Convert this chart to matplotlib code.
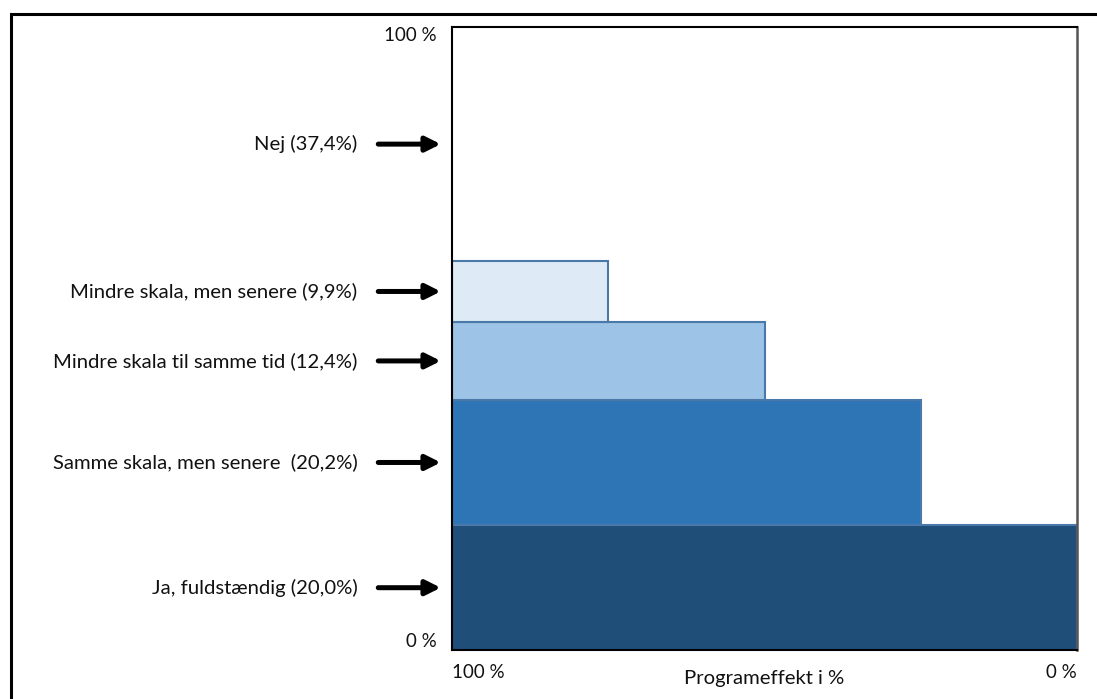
import matplotlib
matplotlib.use("Agg")
import matplotlib.pyplot as plt
from matplotlib.patches import Rectangle

# Data
categories = ["Ja, fuldstændig (20,0%)",
              "Samme skala, men senere  (20,2%)",
              "Mindre skala til samme tid (12,4%)",
              "Mindre skala, men senere (9,9%)",
              "Nej (37,4%)"]
shares = [20.0, 20.2, 12.4, 9.9, 37.4]          # % of respondents (stacked height)
program_effect = [0, 25, 50, 75, 100]           # programeffekt i %
colors = ["#1f4e79", "#2e75b6", "#9dc3e6", "#deeaf6", "#ffffff"]
y_ticklabels = ["0 %", "100 %"]
x_ticklabels = ["100 %", "0 %"]

plt.rcParams['font.family'] = ['Lato', 'DejaVu Sans']

fig = plt.figure(figsize=(10.97, 6.99), dpi=100)
ax = fig.add_axes([452/1097, 1-650/699, (1077-452)/1097, (650-27)/699])

bottoms = []
b = 0
for s in shares:
    bottoms.append(b)
    b += s

for cat, s, eff, bt, c in zip(categories, shares, program_effect, bottoms, colors):
    w = 100 - eff
    if w > 0:
        ax.barh(bt, w, height=s, left=eff, align='edge', color=c,
                edgecolor="#4a78a8", linewidth=1.5, zorder=2)
    yc = bt + s / 2
    ax.annotate("", xy=(-0.018, yc), xycoords=('axes fraction', 'data'),
                xytext=(-0.118, yc), textcoords=('axes fraction', 'data'),
                arrowprops=dict(arrowstyle='-|>', lw=3.6, color='black',
                                mutation_scale=22, shrinkA=0, shrinkB=0),
                annotation_clip=False)
    ax.text(-0.151, yc, cat, transform=ax.get_yaxis_transform(), ha='right',
            va='center', fontsize=14.6, color='#111111')

ax.set_xlim(100, 0)
ax.set_ylim(0, 100)

ax.set_yticks([0, 100])
ax.set_yticklabels(y_ticklabels, fontsize=13.5)
ylabs = ax.get_yticklabels()
ylabs[0].set_va('bottom')
ylabs[1].set_va('top')
ax.set_xticks([100, 0])
ax.set_xticklabels(x_ticklabels, fontsize=13.5)
xlabs = ax.get_xticklabels()
xlabs[0].set_ha('left')
xlabs[1].set_ha('right')
ax.tick_params(axis='both', length=0, colors='#111111')
ax.tick_params(axis='y', pad=11)
ax.tick_params(axis='x', pad=10)
ax.set_xlabel("Programeffekt i %", fontsize=14.6, labelpad=-8, color='#111111')

for side in ['left', 'top', 'bottom']:
    ax.spines[side].set_linewidth(1.5)
    ax.spines[side].set_color('black')
ax.spines['right'].set_linewidth(1.8)
ax.spines['right'].set_color('#555555')

# outer frame
fig.patches.append(Rectangle((11/1097, -0.1), 1.2, 1-14/699+0.1,
                             transform=fig.transFigure, fill=False,
                             edgecolor='black', linewidth=2.2))

fig.savefig("out.png", dpi=100)
